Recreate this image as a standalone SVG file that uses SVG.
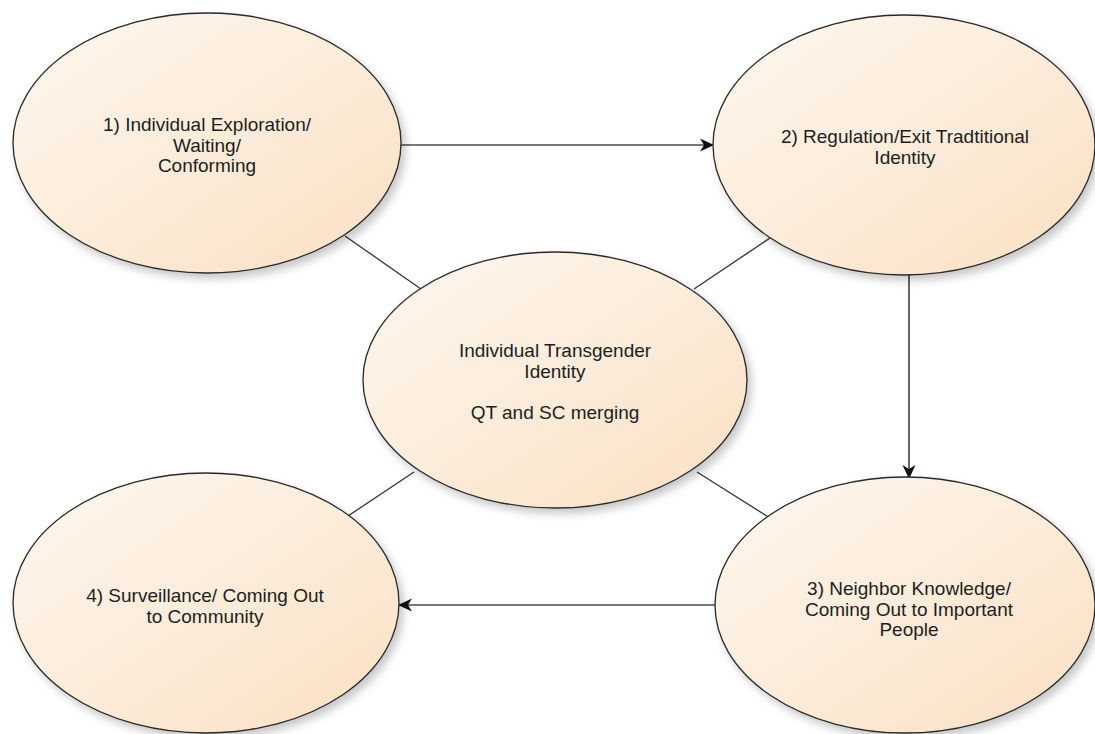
<svg xmlns="http://www.w3.org/2000/svg" width="1095" height="734" viewBox="0 0 1095 734">
<defs>
<linearGradient id="fill" x1="0" y1="0" x2="1" y2="1">
<stop offset="0" stop-color="#fdf7ef"/>
<stop offset="0.5" stop-color="#fcecda"/>
<stop offset="1" stop-color="#fadfc2"/>
</linearGradient>
<filter id="shadow" x="-10%" y="-10%" width="125%" height="130%">
<feDropShadow dx="4" dy="5" stdDeviation="4" flood-color="#000" flood-opacity="0.22"/>
</filter>
<marker id="arrow" viewBox="0 0 14 14" refX="13" refY="7" markerWidth="14" markerHeight="14" markerUnits="userSpaceOnUse" orient="auto">
<path d="M0,0.5 L14,7 L0,13.5 L4,7 Z" fill="#111"/>
</marker>
<style>
.node ellipse{fill:url(#fill);stroke:#2a2a2a;stroke-width:1.3;filter:url(#shadow)}
.node text{font-family:"Liberation Sans",Arial,sans-serif;font-size:19px;fill:#1e1e1e;text-anchor:middle}
.arr{stroke:#4a4a4a;stroke-width:1.7;fill:none;marker-end:url(#arrow)}
.ln{stroke:#333;stroke-width:1.3;fill:none}
</style>
</defs>
<rect width="1095" height="734" fill="#fff"/>
<g id="connectors">
<line class="arr" x1="401" y1="145" x2="713" y2="145"/>
<line class="arr" x1="909" y1="275" x2="909" y2="478"/>
<line class="arr" x1="715" y1="605" x2="399" y2="605"/>
<line class="ln" x1="345" y1="236" x2="421" y2="289"/>
<line class="ln" x1="694" y1="289" x2="770" y2="238"/>
<line class="ln" x1="414" y1="472" x2="348" y2="516"/>
<line class="ln" x1="697" y1="472" x2="770" y2="518"/>
</g>
<g id="node1" class="node">
<ellipse cx="207" cy="143" rx="194" ry="130"/>
<text x="207" y="131">1) Individual Exploration/</text>
<text x="207" y="151.5">Waiting/</text>
<text x="207" y="172">Conforming</text>
</g>
<g id="node2" class="node">
<ellipse cx="904" cy="145" rx="191" ry="130"/>
<text x="905" y="143">2) Regulation/Exit Tradtitional</text>
<text x="905" y="163.5">Identity</text>
</g>
<g id="center" class="node">
<ellipse cx="555" cy="380" rx="192" ry="128"/>
<text x="555" y="357">Individual Transgender</text>
<text x="555" y="377.5">Identity</text>
<text x="555" y="419">QT and SC merging</text>
</g>
<g id="node3" class="node">
<ellipse cx="905" cy="605" rx="190" ry="128"/>
<text x="909" y="595">3) Neighbor Knowledge/</text>
<text x="909" y="615.5">Coming Out to Important</text>
<text x="909" y="636">People</text>
</g>
<g id="node4" class="node">
<ellipse cx="206" cy="603" rx="193" ry="130"/>
<text x="205" y="602">4) Surveillance/ Coming Out</text>
<text x="205" y="622.5">to Community</text>
</g>
</svg>
